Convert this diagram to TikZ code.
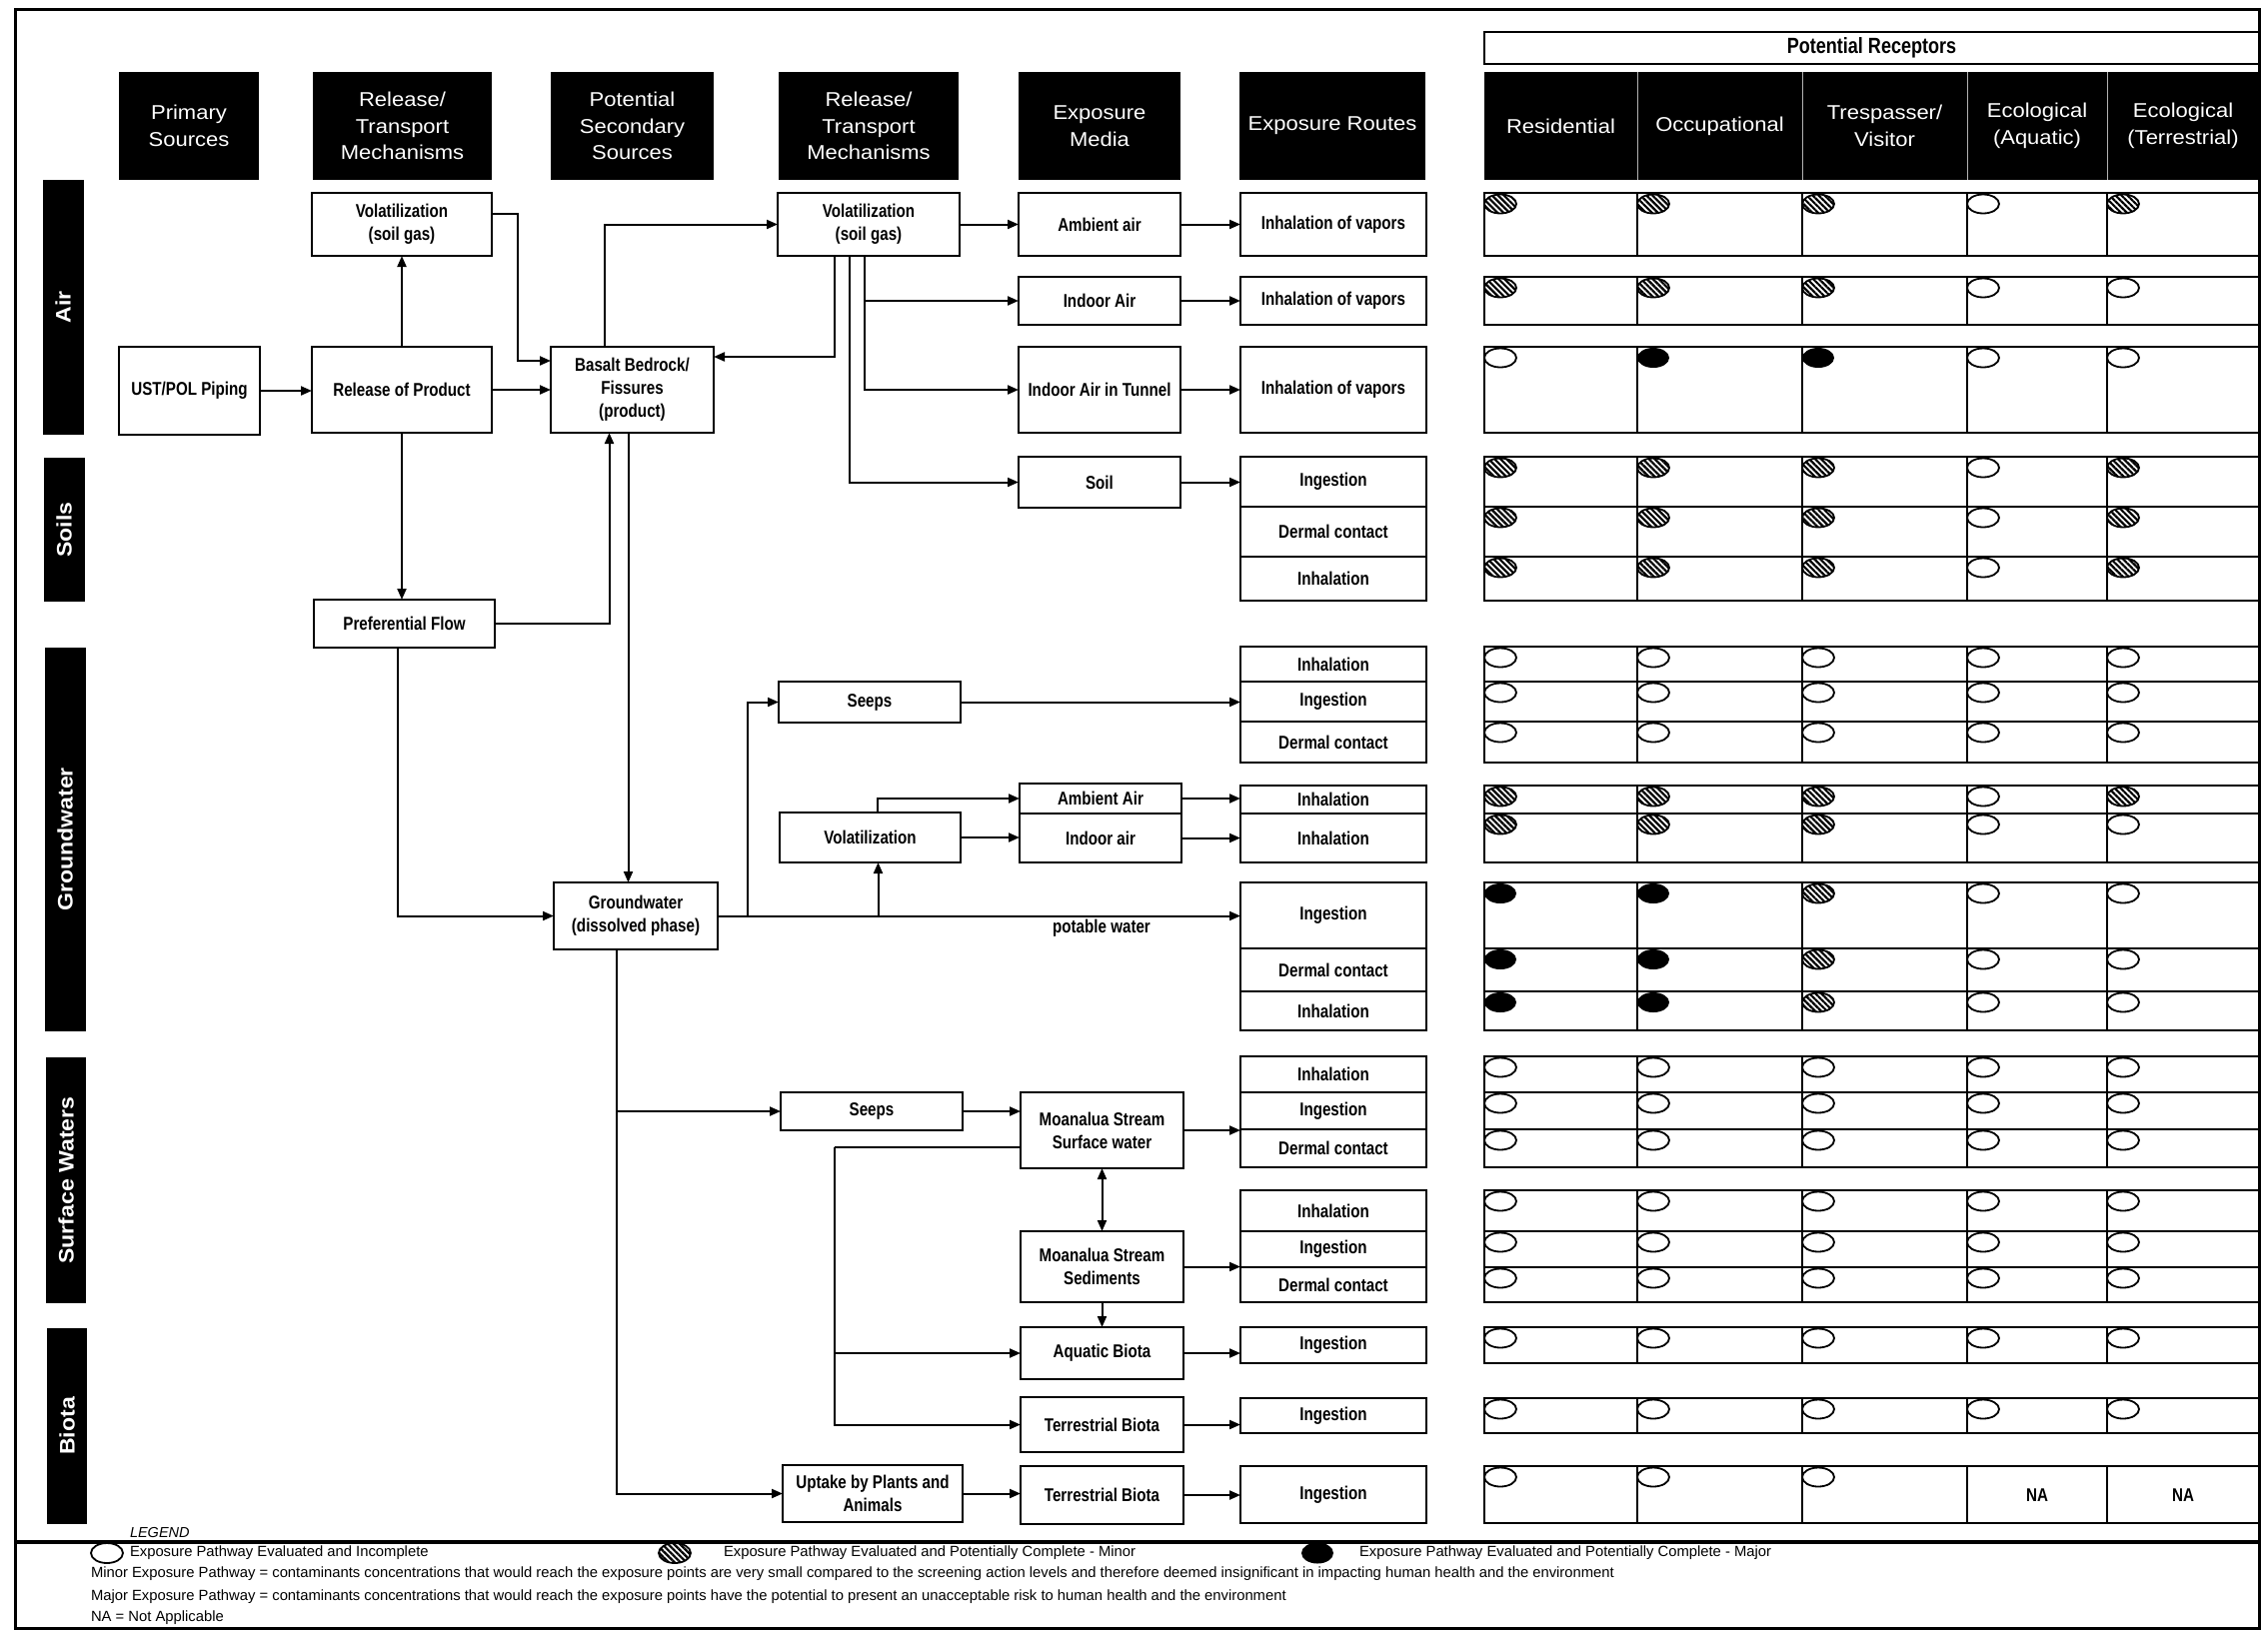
\documentclass[tikz,border=0pt]{standalone}
\usepackage{fontspec}
\setmainfont{Liberation Sans}
\newfontfamily\nbf[FakeStretch=0.82]{Liberation Sans}
\newfontfamily\hdf[FakeStretch=1.1]{Liberation Sans}
\usetikzlibrary{arrows.meta,patterns.meta,calc}
\tikzset{
  tri/.tip={Triangle[length=11pt,width=9pt]},
  every node/.style={inner sep=0pt, outer sep=0pt},
  box/.style={draw, line width=2.4pt, fill=white, align=center,
    font=\nbf\bfseries\fontsize{18.5}{23}\selectfont},
  hdr/.style={fill=black, text=white, align=center,
    font=\hdf\fontsize{20}{26.5}\selectfont},
  hdrtxt/.style={text=white, align=center, font=\hdf\fontsize{20}{26.5}\selectfont},
  side/.style={fill=black, text=white, rotate=90,
    font=\hdf\bfseries\fontsize{21}{24}\selectfont},
  arr/.style={line width=2pt, -tri},
  ln/.style={line width=2pt},
  tl/.style={line width=2.6pt},
  tv/.style={line width=1.8pt},
  legtxt/.style={anchor=west, font=\fontsize{14.8}{17}\selectfont},
  natxt/.style={font=\nbf\bfseries\fontsize{18.5}{22}\selectfont}
}
\newcommand\mkbox[7]{\node[#1, minimum width={#5-#3}, minimum height={#6-#4}] (#2) at ({(#3+#5)/2},{(#4+#6)/2}) {#7};}
\newcommand\rt[4]{\mkbox{box}{#1}{1241}{#2}{1427}{#3}{#4}}
\newcommand\cO[2]{\draw[line width=1.8pt, fill=white] (#1,#2) ellipse [x radius=16, y radius=9.5];}
\newcommand\cH[2]{\draw[line width=1.8pt, pattern={Lines[angle=-45,distance=4.2pt,line width=2.2pt]}] (#1,#2) ellipse [x radius=16, y radius=9.5];}
\newcommand\cB[2]{\fill (#1,#2) ellipse [x radius=16, y radius=10];}
\newcommand\cN[2]{}
\newcommand\crow[6]{%
  \csname c#2\endcsname{1501}{#1+11}%
  \csname c#3\endcsname{1654}{#1+11}%
  \csname c#4\endcsname{1819}{#1+11}%
  \csname c#5\endcsname{1984}{#1+11}%
  \csname c#6\endcsname{2124}{#1+11}}
\newcommand\tgrp[2]{\draw[tl] (1485,#1) rectangle (2260,#2);
  \foreach \xx in {1638,1803,1968,2108} {\draw[tv] (\xx,#1) -- (\xx,#2);}}
\newcommand\thr[1]{\draw[tl] (1485,#1) -- (2260,#1);}
\begin{document}
\begin{tikzpicture}[x=1pt,y=-1pt]
\useasboundingbox (0,0) rectangle (2269,1631);
\draw[line width=3pt] (15,9) rectangle (2260,1629);
\draw[line width=4pt] (15,1543) -- (2260,1543);

% ---------- headers ----------
\mkbox{hdr}{h1}{119}{72}{259}{180}{Primary\\Sources}
\mkbox{hdr}{h2}{313}{72}{492}{180}{Release/\\Transport\\Mechanisms}
\mkbox{hdr}{h3}{551}{72}{714}{180}{Potential\\Secondary\\Sources}
\mkbox{hdr}{h4}{779}{72}{959}{180}{Release/\\Transport\\Mechanisms}
\mkbox{hdr}{h5}{1019}{72}{1181}{180}{Exposure\\Media}
\mkbox{hdr}{h6}{1240}{72}{1426}{180}{Exposure Routes}
\mkbox{hdr}{h7}{1485}{72}{2260}{180}{}
\foreach \xx in {1638,1803,1968,2108} {\draw[gray!60, line width=1pt] (\xx,72) -- (\xx,180);}
\node[hdrtxt] (c1) at (1561.5,126) {Residential};
\node[hdrtxt] (c2) at (1720.5,126) {Occupational};
\node[hdrtxt] (c3) at (1885.5,126) {Trespasser/\\Visitor};
\node[hdrtxt] (c4) at (2038,126) {Ecological\\(Aquatic)};
\node[hdrtxt] (c5) at (2184,126) {Ecological\\(Terrestrial)};
\mkbox{box, font=\nbf\bfseries\fontsize{22}{24}\selectfont}{pr}{1485}{32}{2260}{64}{Potential Receptors}

% ---------- side bars ----------
\node[side, minimum width=255, minimum height=41] (sAir) at (63,307.5) {Air};
\node[side, minimum width=144, minimum height=41] (sSoil) at (64,530) {Soils};
\node[side, minimum width=384, minimum height=41] (sGW) at (65,840) {Groundwater};
\node[side, minimum width=246, minimum height=40] (sSW) at (66,1181) {Surface Waters};
\node[side, minimum width=196, minimum height=40] (sBio) at (67,1427) {Biota};

% ---------- source / mechanism boxes ----------
\mkbox{box}{ust}{119}{347}{260}{435}{UST/POL Piping}
\mkbox{box}{volA}{312}{193}{492}{256}{Volatilization\\(soil gas)}
\mkbox{box}{rel}{312}{347}{492}{433}{Release of Product}
\mkbox{box}{pref}{314}{600}{495}{648}{Preferential Flow}
\mkbox{box}{bas}{551}{347}{714}{433}{Basalt Bedrock/\\Fissures\\(product)}
\mkbox{box}{gw}{554}{883}{718}{950}{Groundwater\\(dissolved phase)}
\mkbox{box}{volB}{778}{193}{960}{256}{Volatilization\\(soil gas)}
\mkbox{box}{seepsG}{779}{682}{961}{723}{Seeps}
\mkbox{box}{volG}{780}{813}{961}{863}{Volatilization}
\mkbox{box}{seepsS}{781}{1093}{963}{1131}{Seeps}
\mkbox{box}{upt}{783}{1466}{963}{1523}{Uptake by Plants and\\Animals}

% ---------- exposure media ----------
\mkbox{box}{mAmb}{1019}{193}{1181}{256}{Ambient air}
\mkbox{box}{mInd}{1019}{277}{1181}{325}{Indoor Air}
\mkbox{box}{mTun}{1019}{347}{1181}{433}{Indoor Air in Tunnel}
\mkbox{box}{mSoil}{1019}{457}{1181}{508}{Soil}
\mkbox{box}{mAmbG}{1020}{784}{1182}{814}{Ambient Air}
\mkbox{box}{mIndG}{1020}{814}{1182}{863}{Indoor air}
\mkbox{box}{mSW}{1021}{1093}{1184}{1169}{Moanalua Stream\\Surface water}
\mkbox{box}{mSed}{1021}{1232}{1184}{1303}{Moanalua Stream\\Sediments}
\mkbox{box}{mAq}{1021}{1328}{1184}{1380}{Aquatic Biota}
\mkbox{box}{mTer}{1021}{1398}{1184}{1453}{Terrestrial Biota}
\mkbox{box}{mTer2}{1021}{1467}{1184}{1525}{Terrestrial Biota}

% ---------- exposure routes ----------
\rt{rA}{193}{256}{Inhalation of vapors}
\rt{rI}{277}{325}{Inhalation of vapors}
\rt{rT}{347}{433}{Inhalation of vapors}
\rt{rS1}{457}{507}{Ingestion}
\rt{rS2}{507}{557}{Dermal contact}
\rt{rS3}{557}{601}{Inhalation}
\rt{rG1}{647}{682}{Inhalation}
\rt{rG2}{682}{722}{Ingestion}
\rt{rG3}{722}{763}{Dermal contact}
\rt{rG4}{786}{814}{Inhalation}
\rt{rG5}{814}{863}{Inhalation}
\rt{rP1}{883}{949}{Ingestion}
\rt{rP2}{949}{992}{Dermal contact}
\rt{rP3}{992}{1031}{Inhalation}
\rt{rW1}{1057}{1093}{Inhalation}
\rt{rW2}{1093}{1130}{Ingestion}
\rt{rW3}{1130}{1168}{Dermal contact}
\rt{rD1}{1191}{1232}{Inhalation}
\rt{rD2}{1232}{1268}{Ingestion}
\rt{rD3}{1268}{1303}{Dermal contact}
\rt{rQ}{1328}{1364}{Ingestion}
\rt{rR}{1399}{1434}{Ingestion}
\rt{rR2}{1467}{1524}{Ingestion}

% ---------- connectors ----------
\coordinate (vaR) at ($(volA.east)+(0,-11)$);
\coordinate (basL1) at ($(bas.west)+(0,-29)$);
\coordinate (basR1) at ($(bas.east)+(0,-33)$);
\coordinate (basT1) at ($(bas.north)+(-28,0)$);
\coordinate (basB1) at ($(bas.south)+(-23,0)$);
\coordinate (basB2) at ($(bas.south)+(-4,0)$);
\coordinate (vbA) at ($(volB.south)+(-34,0)$);
\coordinate (vbB) at ($(volB.south)+(-19,0)$);
\coordinate (vbC) at ($(volB.south)+(-4,0)$);
\coordinate (pfB) at ($(pref.south)+(-7,0)$);
\coordinate (jS) at ($(seepsG.west)+(-31,0)$);
\coordinate (vgB) at ($(volG.south)+(8,0)$);
\coordinate (vgT) at ($(volG.north)+(7,0)$);
\coordinate (gwD) at ($(gw.south)+(-19,0)$);
\coordinate (swL) at ($(mSW.west)+(0,17)$);
\coordinate (swV) at ($(swL)+(-186,0)$);

\draw[arr] (ust.east) -- (ust.east -| rel.west);
\draw[arr] (rel.north) -- (volA.south);
\draw[arr] (vaR) -- ++(26,0) |- (basL1);
\draw[arr] (rel.east) -- (bas.west);
\draw[arr] (basT1) |- (volB.west);
\draw[arr] (vbA) |- (basR1);
\draw[arr] (vbB) |- (mSoil.west);
\draw[arr] (vbC) |- (mInd.west);
\draw[arr] (vbC) |- (mTun.west);
\draw[arr] (volB.east) -- (volB.east -| mAmb.west);
\draw[arr] (rel.south) -- (rel.south |- pref.north);
\draw[arr] (pref.east) -| (basB1);
\draw[arr] (basB2) -- (basB2 |- gw.north);
\draw[arr] (pfB) |- (gw.west);
\draw[arr] (gw.east) -- (gw.east -| rP1.west);
\node[natxt] (pw) at (1102,929) {potable water};
\draw[arr] (jS |- gw.east) |- (seepsG.west);
\draw[arr] (vgB |- gw.east) -- (vgB);
\draw[arr] (vgT) |- (mAmbG.west);
\draw[arr] (volG.east) -- (volG.east -| mIndG.west);
\draw[arr] (seepsG.east) -- (seepsG.east -| rG2.west);
\draw[arr] (gwD) |- (upt.west);
\draw[arr] (gwD |- seepsS.west) -- (seepsS.west);
\draw[arr] (seepsS.east) -- (seepsS.east -| mSW.west);
\draw[ln] (swL) -- (swV);
\draw[arr] (swV) |- (mTer.west);
\draw[arr] (swV |- mAq.west) -- (mAq.west);
\draw[line width=2pt, tri-tri] (mSW.south) -- (mSed.north);
\draw[arr] (mSed.south) -- (mAq.north);
\draw[arr] (upt.east) -- (upt.east -| mTer2.west);
% media -> routes
\draw[arr] (mAmb.east) -- (mAmb.east -| rA.west);
\draw[arr] (mInd.east) -- (mInd.east -| rI.west);
\draw[arr] (mTun.east) -- (mTun.east -| rT.west);
\draw[arr] (mSoil.east) -- (mSoil.east -| rS1.west);
\draw[arr] (mAmbG.east) -- (mAmbG.east -| rG4.west);
\draw[arr] (mIndG.east) -- (mIndG.east -| rG5.west);
\draw[arr] (mSW.east) -- (mSW.east -| rW2.west);
\draw[arr] (mSed.east) -- (mSed.east -| rD2.west);
\draw[arr] (mAq.east) -- (mAq.east -| rQ.west);
\draw[arr] (mTer.east) -- (mTer.east -| rR.west);
\draw[arr] (mTer2.east) -- (mTer2.east -| rR2.west);

% ---------- receptor table ----------
\tgrp{193}{256}
\tgrp{277}{325}
\tgrp{347}{433}
\tgrp{457}{601}\thr{507}\thr{557}
\tgrp{647}{763}\thr{682}\thr{722}
\tgrp{786}{863}\thr{814}
\tgrp{883}{1031}\thr{949}\thr{992}
\tgrp{1057}{1168}\thr{1093}\thr{1130}
\tgrp{1191}{1303}\thr{1232}\thr{1268}
\tgrp{1328}{1364}
\tgrp{1399}{1434}
\tgrp{1467}{1524}

\crow{193}{H}{H}{H}{O}{H}
\crow{277}{H}{H}{H}{O}{O}
\crow{347}{O}{B}{B}{O}{O}
\crow{457}{H}{H}{H}{O}{H}
\crow{507}{H}{H}{H}{O}{H}
\crow{557}{H}{H}{H}{O}{H}
\crow{647}{O}{O}{O}{O}{O}
\crow{682}{O}{O}{O}{O}{O}
\crow{722}{O}{O}{O}{O}{O}
\crow{786}{H}{H}{H}{O}{H}
\crow{814}{H}{H}{H}{O}{O}
\crow{883}{B}{B}{H}{O}{O}
\crow{949}{B}{B}{H}{O}{O}
\crow{992}{B}{B}{H}{O}{O}
\crow{1057}{O}{O}{O}{O}{O}
\crow{1093}{O}{O}{O}{O}{O}
\crow{1130}{O}{O}{O}{O}{O}
\crow{1191}{O}{O}{O}{O}{O}
\crow{1232}{O}{O}{O}{O}{O}
\crow{1268}{O}{O}{O}{O}{O}
\crow{1328}{O}{O}{O}{O}{O}
\crow{1399}{O}{O}{O}{O}{O}
\crow{1467}{O}{O}{O}{N}{N}
\node[natxt] (na1) at (2038,1496) {NA};
\node[natxt] (na2) at (2184,1496) {NA};

% ---------- legend ----------
\node[anchor=west, font=\itshape\fontsize{14.5}{16}\selectfont] (lg) at (130,1533) {LEGEND};
\draw[line width=1.8pt, fill=white] (107,1554) ellipse [x radius=16, y radius=10];
\node[legtxt] (l1) at (130,1554) {Exposure Pathway Evaluated and Incomplete};
\draw[line width=1.8pt, pattern={Lines[angle=-45,distance=4.2pt,line width=2.2pt]}] (675,1554) ellipse [x radius=16, y radius=10];
\node[legtxt] (l2) at (724,1554) {Exposure Pathway Evaluated and Potentially Complete - Minor};
\fill (1318,1554) ellipse [x radius=16, y radius=10.5];
\node[legtxt] (l3) at (1360,1554) {Exposure Pathway Evaluated and Potentially Complete - Major};
\node[legtxt] (l4) at (91,1575) {Minor Exposure Pathway = contaminants concentrations that would reach the exposure points are very small compared to the screening action levels and therefore deemed insignificant in impacting human health and the environment};
\node[legtxt] (l5) at (91,1598) {Major Exposure Pathway = contaminants concentrations that would reach the exposure points have the potential to present an unacceptable risk to human health and the environment};
\node[legtxt] (l6) at (91,1619) {NA = Not Applicable};
\end{tikzpicture}
\end{document}
